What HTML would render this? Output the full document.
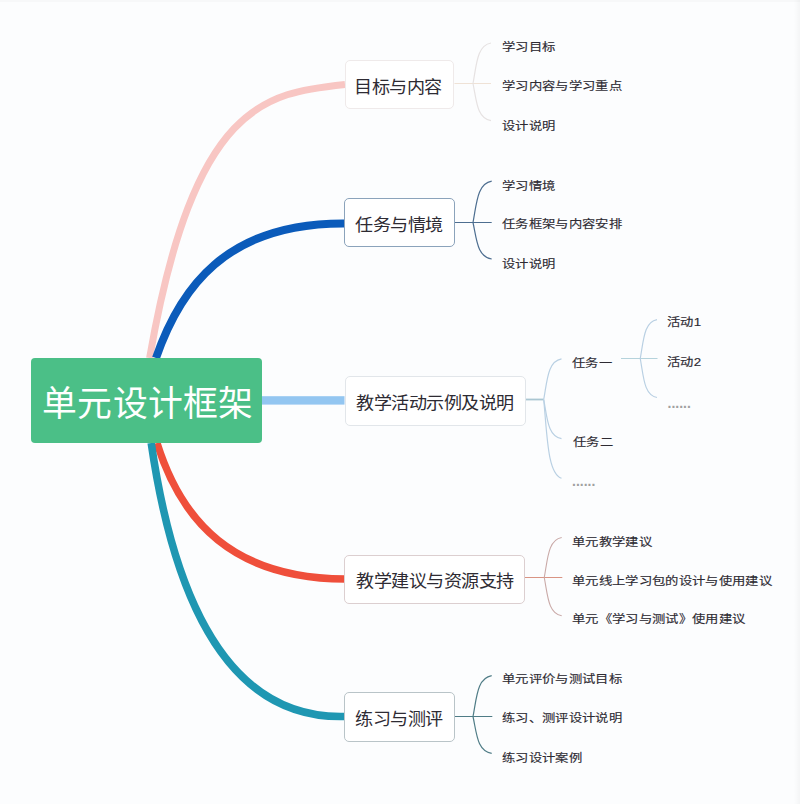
<!DOCTYPE html>
<html lang="zh-CN">
<head>
<meta charset="utf-8">
<title>单元设计框架</title>
<style>
html,body{margin:0;padding:0;}
body{width:800px;height:804px;overflow:hidden;background:#fcfdfe;position:relative;font-family:"Liberation Sans",sans-serif;color:#333;}
svg{position:absolute;left:0;top:0;}
.root{position:absolute;left:31px;top:358px;width:231px;height:85px;background:#4bbf87;border-radius:4px;}
.box{position:absolute;box-sizing:border-box;height:49px;background:#fff;border:1px solid #eee;border-radius:5px;}
.tx{position:absolute;white-space:nowrap;line-height:1;transform-origin:0 0;color:#2e2b33;-webkit-text-stroke:0.15px #2e2b33;}
#root,#b1,#b2,#b3,#b4,#b5{-webkit-text-stroke:0;}
#g3c,#a3{-webkit-text-stroke:0;font-weight:bold;}
</style>
</head>
<body>
<svg width="800" height="804" viewBox="0 0 800 804">
  <path d="M149.6 358 C194 102.3 265.5 92.8 345 84.5" fill="none" stroke="#f8c6c3" stroke-width="7"/>
  <path d="M156 358 C179.6 289.4 225.1 222.6 345 223.4" fill="none" stroke="#0b5bba" stroke-width="8"/>
  <path d="M157 443 C181.5 521.4 232.5 578.2 345 579" fill="none" stroke="#ef4f3b" stroke-width="7.5"/>
  <path d="M151.2 443 C168 558.6 210.5 720.3 345 716.5" fill="none" stroke="#1f97b2" stroke-width="7.6"/>
  <rect x="262" y="396.2" width="82.5" height="8.4" fill="#93c6f1"/>
  <path d="M454.50 83.50 H491.00" fill="none" stroke="#efe2d6" stroke-width="1.2"/>
  <path d="M473.00 83.50 C476.60 64.47 476.96 45.43 491.00 43.00" fill="none" stroke="#e6e2e2" stroke-width="1.2"/>
  <path d="M473.00 83.50 C476.60 100.98 476.96 118.47 491.00 120.70" fill="none" stroke="#e6e2e2" stroke-width="1.2"/>
  <path d="M455.00 222.50 H491.70" fill="none" stroke="#4d6e90" stroke-width="1.2"/>
  <path d="M473.00 222.50 C476.74 203.09 477.11 183.68 491.70 181.20" fill="none" stroke="#4d6e90" stroke-width="1.2"/>
  <path d="M473.00 222.50 C476.74 239.66 477.11 256.81 491.70 259.00" fill="none" stroke="#4d6e90" stroke-width="1.2"/>
  <path d="M525.50 399.50 H543.70" fill="none" stroke="#aac6d2" stroke-width="1.8"/>
  <path d="M543.70 399.50 C547.26 380.42 547.62 361.34 561.50 358.90" fill="none" stroke="#b9d0e3" stroke-width="1.2"/>
  <path d="M543.70 399.50 C547.26 417.88 547.62 436.25 561.50 438.60" fill="none" stroke="#b9d0e3" stroke-width="1.2"/>
  <path d="M543.70 399.50 C547.26 436.54 547.62 473.57 561.50 478.30" fill="none" stroke="#b9d0e3" stroke-width="1.2"/>
  <path d="M621.00 358.50 H657.50" fill="none" stroke="#b5d3dc" stroke-width="1.2"/>
  <path d="M640.25 358.50 C643.60 340.22 643.93 321.93 657.00 319.60" fill="none" stroke="#b9d0e3" stroke-width="1.2"/>
  <path d="M640.25 358.50 C643.60 376.83 643.93 395.16 657.00 397.50" fill="none" stroke="#b9d0e3" stroke-width="1.2"/>
  <path d="M525.00 577.50 H562.30" fill="none" stroke="#d99484" stroke-width="1.2"/>
  <path d="M544.25 577.50 C547.74 558.70 548.09 539.90 561.70 537.50" fill="none" stroke="#c9a9a7" stroke-width="1.1"/>
  <path d="M544.25 577.50 C547.74 595.50 548.09 613.50 561.70 615.80" fill="none" stroke="#c9a9a7" stroke-width="1.1"/>
  <path d="M455.00 716.50 H492.30" fill="none" stroke="#4f7c86" stroke-width="1.2"/>
  <path d="M473.00 716.50 C476.74 697.28 477.11 678.05 491.70 675.60" fill="none" stroke="#4f7c86" stroke-width="1.2"/>
  <path d="M473.00 716.50 C476.74 733.80 477.11 751.09 491.70 753.30" fill="none" stroke="#4f7c86" stroke-width="1.2"/>
</svg>
<div class="root"></div>
<div class="box" style="left:344.5px;top:59.5px;width:109.5px;height:49.5px;border-color:#efeaea;"></div>
<div class="box" style="left:344px;top:198px;width:111px;height:49px;border-color:#8ba3bb;"></div>
<div class="box" style="left:344.5px;top:376px;width:181px;height:50px;border-color:#e2e6ea;"></div>
<div class="box" style="left:344px;top:554.5px;width:181px;height:49px;border-color:#dccfd0;"></div>
<div class="box" style="left:344px;top:692.2px;width:111px;height:49.8px;border-color:#b9c4c8;"></div>
<div class="tx" id="root" style="left:41.50px;top:387.30px;font-size:35.50px;transform:scale(0.980,1.000);color:#fff;">单元设计框架</div>
<div class="tx" id="b1" style="left:353.50px;top:80.05px;font-size:17.50px;transform:scale(1.033,0.950);">目标与内容</div>
<div class="tx" id="b2" style="left:355.00px;top:218.10px;font-size:17.50px;transform:scale(1.033,0.950);">任务与情境</div>
<div class="tx" id="b3" style="left:355.50px;top:396.00px;font-size:17.50px;transform:scale(1.033,0.950);">教学活动示例及说明</div>
<div class="tx" id="b4" style="left:355.50px;top:574.00px;font-size:17.50px;transform:scale(1.033,0.950);">教学建议与资源支持</div>
<div class="tx" id="b5" style="left:355.00px;top:712.10px;font-size:17.50px;transform:scale(1.033,0.950);">练习与测评</div>
<div class="tx" id="g1a" style="left:502.00px;top:41.30px;font-size:13.00px;transform:scale(1.025,0.900);">学习目标</div>
<div class="tx" id="g1b" style="left:502.00px;top:79.50px;font-size:13.00px;transform:scale(1.025,0.900);">学习内容与学习重点</div>
<div class="tx" id="g1c" style="left:502.00px;top:120.15px;font-size:13.00px;transform:scale(1.025,0.900);">设计说明</div>
<div class="tx" id="g2a" style="left:502.00px;top:179.80px;font-size:13.00px;transform:scale(1.025,0.900);">学习情境</div>
<div class="tx" id="g2b" style="left:502.00px;top:218.10px;font-size:13.00px;transform:scale(1.025,0.900);">任务框架与内容安排</div>
<div class="tx" id="g2c" style="left:502.00px;top:258.30px;font-size:13.00px;transform:scale(1.025,0.900);">设计说明</div>
<div class="tx" id="g3a" style="left:572.00px;top:356.70px;font-size:13.00px;transform:scale(1.025,0.900);">任务一</div>
<div class="tx" id="g3b" style="left:572.50px;top:436.00px;font-size:13.00px;transform:scale(1.025,0.900);">任务二</div>
<div class="tx" id="g3c" style="left:572.00px;top:474.00px;font-size:14.00px;color:#a0a0a0;">......</div>
<div class="tx" id="a1" style="left:667.00px;top:316.00px;font-size:13.00px;transform:scale(1.025,0.900);">活动1</div>
<div class="tx" id="a2" style="left:667.00px;top:356.00px;font-size:13.00px;transform:scale(1.025,0.900);">活动2</div>
<div class="tx" id="a3" style="left:667.50px;top:395.50px;font-size:14.00px;color:#a0a0a0;">......</div>
<div class="tx" id="g4a" style="left:571.50px;top:535.50px;font-size:13.00px;transform:scale(1.025,0.900);">单元教学建议</div>
<div class="tx" id="g4b" style="left:571.50px;top:575.30px;font-size:13.00px;transform:scale(1.025,0.900);">单元线上学习包的设计与使用建议</div>
<div class="tx" id="g4c" style="left:571.50px;top:613.30px;font-size:13.00px;transform:scale(1.025,0.900);">单元《学习与测试》使用建议</div>
<div class="tx" id="g5a" style="left:502.00px;top:673.45px;font-size:13.00px;transform:scale(1.025,0.900);">单元评价与测试目标</div>
<div class="tx" id="g5b" style="left:502.00px;top:711.95px;font-size:13.00px;transform:scale(1.025,0.900);">练习、测评设计说明</div>
<div class="tx" id="g5c" style="left:502.00px;top:752.10px;font-size:13.00px;transform:scale(1.025,0.900);">练习设计案例</div>
<div style="position:absolute;left:0;top:0;width:800px;height:2px;background:rgba(0,0,0,0.02);"></div>
<div style="position:absolute;right:0;top:0;width:6px;height:804px;background:linear-gradient(to right,rgba(0,0,0,0),rgba(0,0,0,0.03));"></div>
</body>
</html>
